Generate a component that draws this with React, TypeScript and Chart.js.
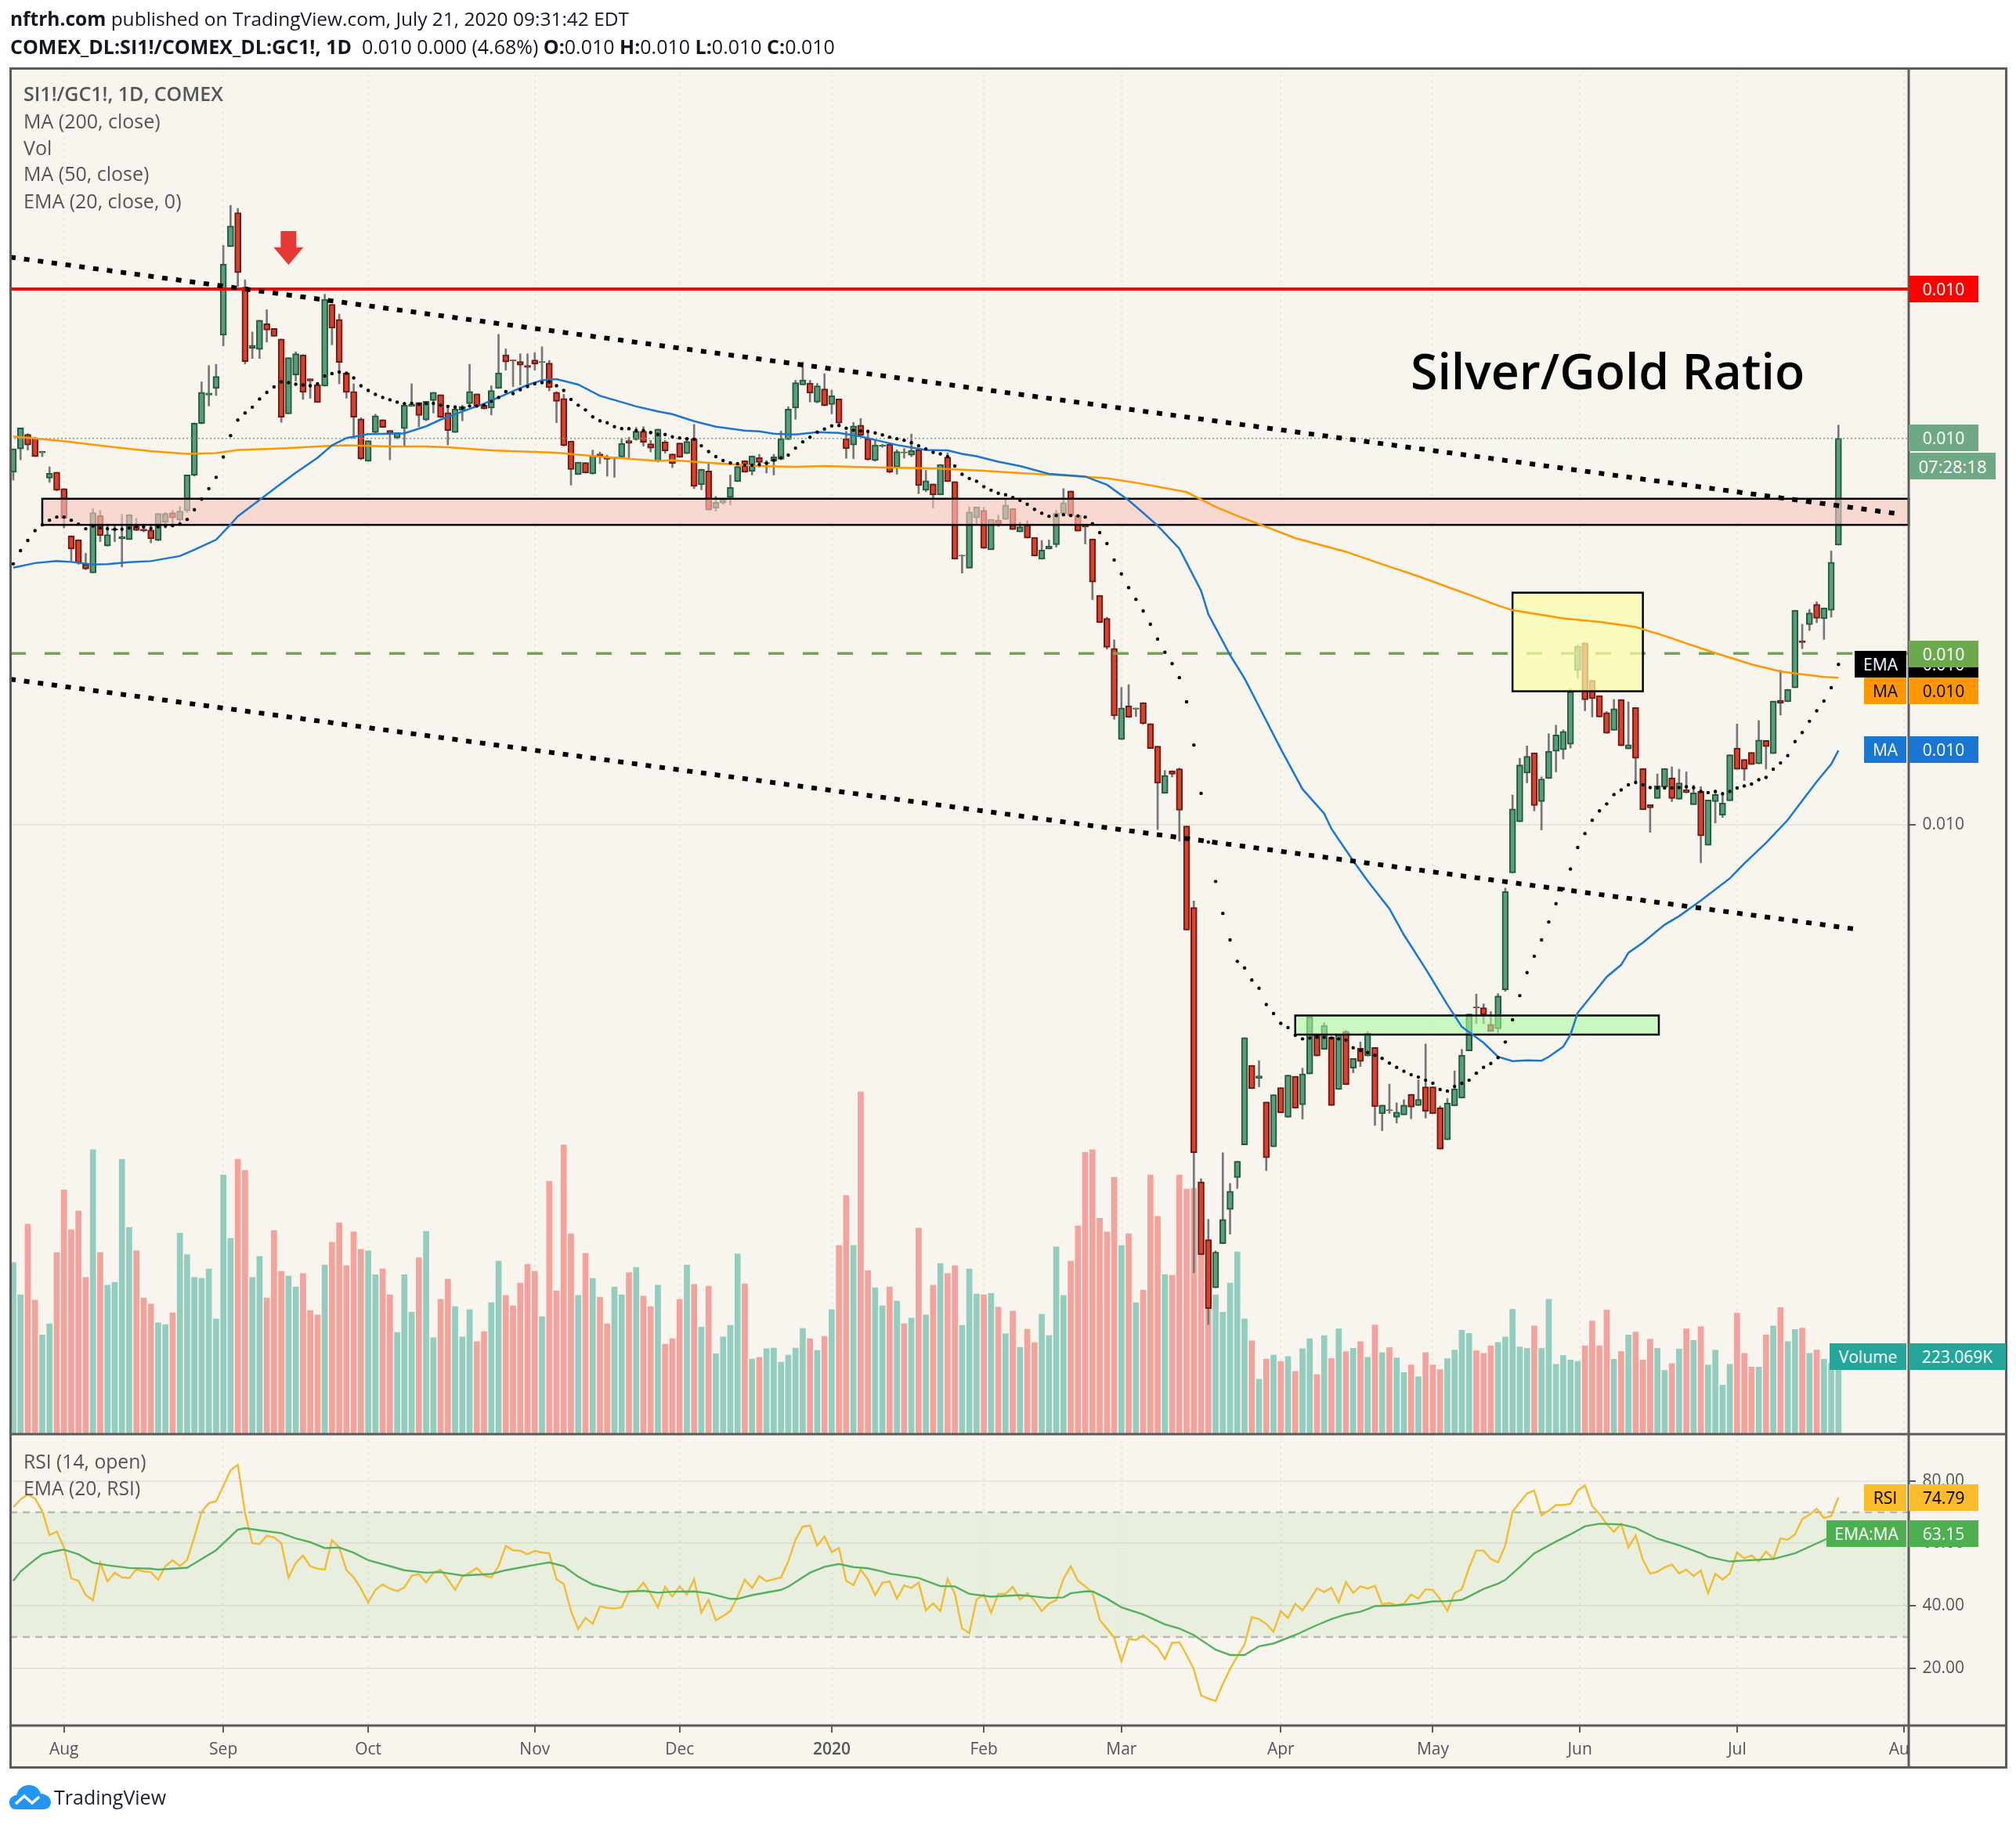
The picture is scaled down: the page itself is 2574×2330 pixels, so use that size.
import React, { useEffect, useRef } from "react";
import { Chart, registerables } from "chart.js";
Chart.register(...registerables);

// Price values are log-scale "pips" above the 0.010 gridline of the log price axis (1 pip = 1/60 %).
const opens = [904,964,1001,991,954,889,904,862,741,731,668,646,793,715,755,733,731,766,758,756,729,776,800,782,805,896,1029,1102,1119,1256,1483,1570,1379,1222,1219,1285,1273,1246,1054,1154,1205,1144,1129,1125,1335,1296,1159,1111,1041,932,1006,1039,1011,992,1016,1073,1083,1038,1088,1103,1057,1006,1063,1080,1105,1076,1069,1119,1205,1192,1188,1178,1192,1186,1184,1109,1093,984,898,929,900,951,942,939,943,985,988,1009,977,932,982,951,
979,952,990,872,907,812,825,839,880,934,906,942,927,932,937,988,1069,1128,1133,1084,1118,1078,1092,990,974,1025,990,934,971,976,917,956,948,962,858,874,846,943,880,689,658,787,806,705,781,783,811,751,769,737,681,707,718,798,856,793,767,733,588,529,452,218,305,296,313,259,201,80,138,143,
-4,-213,-917,-1065,-1189,-1075,-988,-906,-822,-618,-651,-712,-827,-675,-751,-646,-719,-640,-540,-577,-545,-680,-531,-625,-574,-594,-572,-742,-732,-751,-745,-692,-721,-673,-673,-727,-809,-722,-702,-581,-468,-470,-513,-524,-424,-124,7,132,184,59,118,188,192,206,395,466,370,331,287,242,321,194,300,144,51,67,96,120,65,89,51,85,-53,59,24,61,196,167,185,156,216,182,319,315,351,471,513,565,528,550,717];
const closes = [964,1018,974,944,958,901,858,786,707,671,656,800,741,744,759,739,795,755,754,733,798,798,787,804,897,1030,1109,1107,1150,1438,1536,1416,1188,1230,1294,1269,1253,1045,1198,1208,1109,1138,1083,1348,1274,1186,1109,1045,938,985,1049,1019,1003,1006,1076,1079,1050,1086,1109,1045,1011,1066,1073,1111,1073,1067,1114,1159,1187,1190,1179,1173,1182,1188,1121,1086,973,911,930,902,947,947,937,943,978,979,1009,981,966,1015,959,926,
942,983,868,912,807,827,835,865,919,904,946,929,929,944,990,1066,1134,1141,1107,1126,1075,1100,1030,965,1023,999,936,974,974,904,957,954,960,870,882,846,924,880,681,691,802,815,709,783,768,820,757,764,735,689,704,715,799,826,793,753,764,622,518,455,279,299,275,299,259,195,106,126,129,37,
-271,-842,-1104,-1242,-1097,-1013,-941,-864,-547,-678,-645,-855,-693,-740,-643,-728,-640,-493,-594,-516,-721,-539,-667,-600,-608,-536,-724,-720,-734,-738,-720,-725,-705,-736,-742,-833,-715,-678,-592,-486,-470,-488,-531,-440,-172,40,153,175,49,117,188,230,239,341,458,320,323,276,234,297,202,205,170,38,43,99,144,67,107,82,81,-29,63,77,55,179,142,142,154,217,200,317,311,347,550,467,543,529,556,673,991];
const highs = [964,1018,1003,994,958,918,904,862,741,731,696,811,806,771,771,796,796,786,771,771,798,801,806,816,897,1031,1136,1178,1181,1486,1589,1581,1398,1264,1294,1321,1273,1246,1198,1213,1206,1144,1129,1361,1335,1310,1159,1131,1044,985,1053,1039,1011,1006,1083,1131,1083,1086,1109,1103,1076,1076,1076,1181,1105,1076,1126,1258,1221,1192,1208,1208,1211,1226,1191,1111,1104,984,930,929,961,956,948,943,991,994,1019,1021,986,1015,986,951,
979,992,1027,912,929,842,835,897,919,934,946,950,934,950,1010,1072,1140,1187,1140,1132,1157,1115,1092,1009,1032,1042,1007,987,976,977,962,965,1002,962,909,874,924,954,880,692,815,815,814,783,794,837,811,777,780,737,729,730,807,862,856,793,767,733,588,532,474,352,359,299,313,259,201,139,138,145,
-4,-196,-909,-1013,-1094,-842,-921,-864,-547,-618,-606,-712,-693,-675,-643,-646,-625,-493,-540,-509,-545,-539,-528,-600,-558,-531,-572,-720,-666,-714,-706,-692,-655,-563,-673,-722,-703,-632,-577,-486,-435,-460,-480,-434,-163,76,170,202,184,122,233,255,243,348,460,466,370,331,290,321,321,315,300,144,51,130,144,148,142,135,101,97,63,88,83,179,258,167,185,267,216,317,396,347,550,514,552,572,556,702,1025];
const lows = [884,936,961,944,944,878,856,761,676,668,654,646,726,714,726,661,731,754,751,723,728,761,764,771,801,894,1028,1074,1101,1228,1483,1381,1182,1196,1196,1238,1253,1032,1054,1138,1091,1094,1083,1125,1231,1131,1094,991,936,932,1004,1019,936,990,971,1073,1021,1036,1056,1044,974,1006,1036,1080,1071,1066,1051,1119,1166,1124,1128,1131,1166,1141,1113,1031,971,871,898,902,899,926,894,891,942,941,986,971,956,930,953,916,
942,952,862,859,807,804,822,820,880,904,897,917,902,897,936,988,1040,1128,1084,1082,1074,1054,1028,940,939,999,935,932,968,902,899,940,944,849,854,812,846,880,681,645,658,772,708,705,765,782,757,751,735,689,681,707,712,792,793,753,720,577,518,450,270,218,275,277,257,195,-13,80,122,-43,
-271,-1150,-1104,-1283,-1189,-1076,-1051,-934,-822,-678,-673,-888,-827,-740,-751,-728,-756,-640,-594,-577,-721,-680,-667,-637,-621,-594,-772,-786,-741,-766,-745,-755,-721,-753,-742,-833,-809,-722,-702,-581,-511,-511,-531,-534,-428,-124,7,107,35,-14,118,135,168,196,375,292,276,276,234,242,202,194,110,38,-20,67,96,59,65,81,51,-98,-53,4,18,61,142,113,154,156,142,182,281,315,351,451,498,518,475,532,717];
const volumeK = [484,393,592,378,280,311,512,689,576,629,442,802,512,420,428,775,583,517,384,367,314,309,342,567,506,442,439,466,325,731,552,775,744,442,501,384,574,459,446,415,453,349,336,477,541,596,475,570,521,517,450,466,393,287,450,344,497,572,272,380,437,360,274,351,261,289,371,488,391,362,426,479,459,331,713,404,815,565,391,510,439,386,311,415,393,455,470,389,360,420,254,269,
380,477,422,302,417,227,274,307,508,424,212,216,241,243,203,223,243,298,269,236,276,351,532,673,532,965,461,413,362,415,375,311,327,581,336,420,481,453,475,307,466,395,393,397,358,283,347,245,296,258,338,278,528,391,488,587,795,802,609,570,724,532,565,371,406,731,614,450,448,731,691,693,584,481,393,344,426,514,325,263,155,212,223,205,219,177,241,269,168,278,
213,297,233,242,261,217,308,230,244,215,174,195,162,230,195,182,213,237,293,284,235,228,249,259,274,352,246,242,305,242,380,197,222,209,205,249,319,249,350,211,233,280,288,209,268,242,180,199,240,297,264,303,195,237,138,197,341,228,189,189,280,305,357,261,295,299,228,237,211,200,223.069];
const ema20 = [669,703,729,754,769,781,789,789,781,771,759,766,761,759,758,758,761,764,764,760,764,766,767,771,783,808,835,862,891,943,998,1038,1056,1071,1092,1109,1123,1136,1134,1130,1128,1126,1131,1151,1157,1161,1158,1146,1126,1114,1104,1096,1090,1084,1080,1081,1078,1080,1081,1076,1073,1071,1069,1074,1074,1076,1086,1096,1111,1106,1116,1124,1131,1134,1136,1126,1114,1091,1076,1064,1046,1036,1031,1021,1016,1016,1011,1011,1006,1001,1001,995,
992,990,989,972,957,944,934,928,926,922,922,924,927,935,941,948,966,982,994,1007,1015,1023,1024,1017,1012,1010,1009,1005,1000,994,990,986,980,972,964,955,951,944,920,899,888,881,867,858,850,846,839,832,822,809,799,791,793,795,793,792,789,772,749,721,679,643,608,578,548,514,476,442,413,377,315,204,80,-45,-146,-228,-296,-351,-368,-399,-420,-462,-485,-510,-521,-541,-550,-548,-546,-546,-548,-550,-553,-573,-580,-585,-592,-600,-612,-623,-633,-642,-648,-656,-664,-680,-684,-672,-664,-656,-638,-623,-613,-598,-558,-501,-439,-380,-338,-296,-250,-203,-165,-114,-59,-23,11,35,53,77,89,102,108,102,95,94,94,94,95,97,95,85,82,85,79,85,94,99,104,115,121,142,158,177,213,236,265,292,317,351,411];
const ma50Index = [0,3,6,8,11,13,16,19,23,25,28,30,31,34,37,39,42,44,46,49,52,54,57,59,62,65,68,71,73,75,78,81,84,86,89,91,94,97,101,103,105,108,111,114,117,119,122,126,129,131,133,136,139,143,148,151,154,156,158,161,162,164,165,168,170,172,175,178,181,182,185,187,190,192,195,198,200,203,205,207,209,211,212,214,215,216,219,220,222,223,225,228,230,233,237,239,242,245,247,249,251,252];
const ma50 = [659,671,676,674,667,668,673,676,689,705,731,770,791,833,875,903,941,973,992,1002,1003,1004,1022,1039,1060,1080,1104,1128,1140,1143,1129,1100,1084,1073,1060,1053,1035,1021,1011,1009,1003,1001,1007,1005,996,987,974,961,960,951,945,931,920,900,893,872,832,800,767,708,672,600,540,435,375,303,194,91,28,-11,-93,-145,-216,-283,-370,-462,-519,-560,-596,-607,-605,-606,-596,-570,-539,-483,-414,-391,-360,-329,-303,-257,-235,-195,-138,-100,-47,12,61,110,155,190];
const ma200Index = [0,3,7,13,19,24,28,31,37,43,46,52,57,60,66,75,81,89,91,97,103,108,112,118,127,133,139,145,151,156,162,166,169,172,177,184,189,194,198,202,205,207,211,214,219,224,228,231,235,240,244,246,250,252];
const ma200 = [996,991,984,970,958,951,953,961,965,971,973,970,970,968,960,954,944,933,935,927,920,918,920,917,914,909,902,896,889,874,853,815,792,771,735,700,668,637,610,583,562,550,538,529,520,507,484,465,440,411,393,388,379,377];
const rsi14 = [71.6,74.1,75.7,74.4,70.4,62.7,63.8,58.7,48.8,48,43.4,41.8,53.8,47.8,50.6,49.1,48.9,51.7,51,50.8,48.3,52.7,54.6,52.7,54.7,62.1,70.1,72.9,73.5,78.4,83.5,85.2,69.7,60.1,59.8,62.5,61.9,60.1,49,53.7,56.1,52.7,51.9,51.6,61.1,58.7,51.4,49.1,45.5,41,45.1,46.8,45.5,44.7,45.9,49.6,50.2,47.4,50.6,51.5,48.5,45.1,49.3,50.6,52.1,49.7,49.1,52.7,59.2,57.8,57.6,56.5,57.6,57.1,56.8,48.5,47,38.3,32.5,36.1,34.2,39.8,39.3,39.1,39.5,44.6,44.6,47.4,43.8,39.5,46.1,42.9,
46.2,43.6,48.5,37.8,41.9,35.3,36.7,38.3,42.9,48.4,45.7,49.5,47.9,48.5,49.1,54.2,61.2,65.4,65.7,59.3,62.2,57.2,58.5,48,46.6,51.5,48.5,43.4,47.4,47.8,42.3,46.5,45.7,47.4,38.5,40.8,38.3,48.6,43.8,32.7,31.2,42,43.6,37.8,43.8,43.8,46.1,42,44,41.7,38.3,40.7,41.8,48.6,52.7,48,46.2,44.2,35.5,32.7,29.8,22.1,29.3,29,30.5,28.5,26.6,22.9,28.1,28.3,24.2,19.6,11.2,10.2,9.4,14.9,19.7,23.8,27.6,36.4,35.7,34.2,31.6,38.3,36.1,40.6,38.5,41.8,45.6,44.4,45.8,41.1,47.6,
44.1,46.3,45.5,46.4,40.5,40.9,40.2,40.7,43.6,42.3,45.3,45.1,42.1,38.4,44.1,45.3,52.2,57.7,57.7,55,53.9,59.4,70.2,73.1,76,77,69,70.5,72.3,72.3,72.7,77,78.6,72,69.5,66.2,63.7,66.3,58.7,62.6,54.7,50.3,50.9,52.3,53.2,50.4,51.6,49.5,51.3,44,50.3,48.4,50.4,57.1,55.2,56.1,54.2,57.4,55,61.6,61.2,62.9,67.8,69.2,71.1,68.1,68.8,74.79];
const rsiEmaIndex = [0,1,3,4,6,7,9,11,13,16,19,20,22,24,25,28,31,32,34,37,39,41,43,45,47,49,52,54,57,59,62,66,68,72,74,76,78,80,84,87,89,91,94,96,99,100,102,106,107,110,112,114,116,118,120,121,123,125,128,130,132,135,139,140,143,145,146,148,149,151,153,156,159,161,163,166,168,170,172,174,177,180,182,184,186,187,188,191,194,196,198,200,201,203,205,206,208,210,213,215,217,219,222,224,227,230,233,234,237,239,243,246,249,252];
const rsiEma = [48,51,54.8,56.5,57.6,58,56.5,53.8,53,52.1,51.9,51.6,51.9,52.2,53.6,57.8,64.4,64.9,64.2,63.3,61.6,60.4,58.5,58.7,57,54.6,52.7,51.4,50.6,50.8,49.7,50.2,51.4,53.1,53.9,52.7,49.3,46.8,44.4,44.8,44.2,44.5,44.6,44,42.2,42.2,43.4,45.1,46.1,50.6,52.5,53.4,52.4,52,51,50.3,49.6,48.9,46.3,46.2,43.8,42.9,43.4,43.2,42.5,42.7,44,44.6,44.6,42.3,39.5,37.2,34,32.7,30.6,25.9,24.2,24.2,27,27.9,30.6,33.8,35.7,37.2,38.1,38.9,39.9,40.1,40.7,41.4,41.5,41.9,43,45.4,47.1,48.3,52.4,56.8,60.6,62.9,65.5,66.3,66.1,65,61.5,59.4,56.8,55.7,54.2,54.5,55,56.8,60,63.15];
const trendUpperIndex = [-0.43, 260.4];
const trendUpper = [1456, 797];
const trendLowerIndex = [-0.43, 255];
const trendLower = [373, -270];
const resistance = 1374;
const dashedLevel = 439;
const lastClose = 991;
const pinkZone = { from: 4, top: 836, bottom: 769 };
const yellowZone = { from: 207, to: 225, top: 595, bottom: 342 };
const greenZone = { from: 177, to: 227.2, top: -490, bottom: -539 };
const arrowAt = { index: 38, top: 1523, neck: 1481, tip: 1436 };
const monthTicks = [7, 29, 49, 72, 92, 113, 134, 153, 175, 196, 216.3, 238, 261];
const monthLabels = ["Aug", "Sep", "Oct", "Nov", "Dec", "2020", "Feb", "Mar", "Apr", "May", "Jun", "Jul", "Aug"];
const rsiTicks = [20, 40, 60, 80];
const rsiBand = [30, 70];

const FONT = '"Open Sans", sans-serif';
const BG = "#f7f5ee";
const FRAME = "#5b5b59";
const ZONE_LAYER = 70;
const xy = (idx: number[], v: number[]) => v.map((y, i) => ({ x: idx[i], y }));
const seq = (v: number[]) => v.map((y, x) => ({ x, y }));
const levelLine = (y: number) => [{ x: -0.43, y }, { x: 261.7, y }];

const overlays = {
  id: "overlays",
  beforeDraw(chart: any) {
    const c = chart.ctx;
    c.save();
    c.fillStyle = "#ffffff";
    c.fillRect(0, 0, 2574, 2330);
    c.fillStyle = BG;
    c.fillRect(13, 87, 2550, 2170);
    c.restore();
  },
  beforeDatasetsDraw(chart: any) {
    const { ctx: c, scales: s, chartArea: a } = chart;
    const top = s.yRsi.getPixelForValue(rsiBand[1]);
    const bot = s.yRsi.getPixelForValue(rsiBand[0]);
    c.save();
    c.fillStyle = "rgba(90,190,70,0.09)";
    c.fillRect(a.left, top, a.right - a.left, bot - top);
    c.restore();
  },
  // The marked zones sit over the candles and under the moving averages and trend lines.
  beforeDatasetDraw(chart: any, args: any) {
    if (args.meta.order !== ZONE_LAYER) return;
    const { ctx: c, scales: s, chartArea: a } = chart;
    const x = s.x, y = s.y;
    const rect = (l: number, r: number, t: number, b: number, fill: string) => {
      c.fillStyle = fill;
      c.fillRect(l, t, r - l, b - t);
      c.strokeStyle = "#000";
      c.lineWidth = 2.5;
      c.strokeRect(l, t, r - l, b - t);
    };
    c.save();
    rect(x.getPixelForValue(pinkZone.from), a.right, y.getPixelForValue(pinkZone.top), y.getPixelForValue(pinkZone.bottom), "rgba(248,200,190,0.62)");
    rect(x.getPixelForValue(yellowZone.from), x.getPixelForValue(yellowZone.to), y.getPixelForValue(yellowZone.top), y.getPixelForValue(yellowZone.bottom), "rgba(252,252,170,0.72)");
    rect(x.getPixelForValue(greenZone.from), x.getPixelForValue(greenZone.to), y.getPixelForValue(greenZone.top), y.getPixelForValue(greenZone.bottom), "rgba(170,250,160,0.58)");
    c.restore();
  },
  afterDatasetsDraw(chart: any) {
    const { ctx: c, scales: s } = chart;
    const x = s.x, y = s.y;
    c.save();
    const ax = x.getPixelForValue(arrowAt.index);
    c.fillStyle = "#e53935";
    c.beginPath();
    c.moveTo(ax - 10, y.getPixelForValue(arrowAt.top));
    c.lineTo(ax + 10, y.getPixelForValue(arrowAt.top));
    c.lineTo(ax + 10, y.getPixelForValue(arrowAt.neck));
    c.lineTo(ax + 19, y.getPixelForValue(arrowAt.neck));
    c.lineTo(ax, y.getPixelForValue(arrowAt.tip));
    c.lineTo(ax - 19, y.getPixelForValue(arrowAt.neck));
    c.lineTo(ax - 10, y.getPixelForValue(arrowAt.neck));
    c.closePath();
    c.fill();
    c.restore();
  },
  afterDraw(chart: any) {
    const c = chart.ctx;
    c.save();
    c.fillStyle = BG;
    c.fillRect(2438, 2213, 124, 42);
    c.strokeStyle = FRAME;
    c.lineWidth = 3;
    c.strokeRect(13.5, 87.5, 2548, 2169);
    c.beginPath();
    c.moveTo(2437, 87); c.lineTo(2437, 2257);
    c.moveTo(13, 1831); c.lineTo(2562, 1831);
    c.moveTo(13, 2203); c.lineTo(2562, 2203);
    c.stroke();
    c.restore();
  },
};

function Txt(p: { x: number; y: number; size?: number; color?: string; bold?: boolean; children: any; w?: number }) {
  return (
    <div style={{ position: "absolute", left: p.x, top: p.y - 20, height: 40, lineHeight: "40px", width: p.w, whiteSpace: "nowrap", fontFamily: FONT, fontSize: p.size ?? 25, color: p.color ?? "#555", fontWeight: p.bold ? 600 : 400 }}>{p.children}</div>
  );
}
function Box(p: { x: number; y: number; w: number; h: number; bg: string; color?: string; text?: string; size?: number }) {
  return (
    <div style={{ position: "absolute", left: p.x, top: p.y, width: p.w, height: p.h, background: p.bg, color: p.color ?? "#fff", fontFamily: FONT, fontSize: p.size ?? 21, lineHeight: `${p.h}px`, textAlign: "center", whiteSpace: "nowrap", overflow: "hidden" }}>{p.text}</div>
  );
}

export default function App() {
  const ref = useRef<HTMLCanvasElement | null>(null);
  useEffect(() => {
    if (!ref.current) return;
    const chart = new Chart(ref.current, {
      type: "bar",
      plugins: [overlays],
      data: {
        datasets: [
          { type: "bar", label: "Volume", yAxisID: "yVol", order: 100, grouped: false, barThickness: 7,
            data: seq(volumeK), backgroundColor: closes.map((cl, i) => (cl >= opens[i] ? "#92cdc0" : "#f3a29c")) },
          { type: "bar", label: "Wicks", yAxisID: "y", order: 90, grouped: false, barThickness: 2,
            data: lows.map((l, i) => ({ x: i, y: [l, highs[i]] })), backgroundColor: "#777777" },
          { type: "bar", label: "Candles", yAxisID: "y", order: 80, grouped: false, barThickness: 8, borderWidth: 2, borderSkipped: false,
            data: opens.map((o, i) => ({ x: i, y: [Math.min(o, closes[i]), Math.max(o, closes[i])] })),
            backgroundColor: closes.map((cl, i) => (cl >= opens[i] ? "#5b9c7b" : "#d4432f")),
            borderColor: closes.map((cl, i) => (cl >= opens[i] ? "#1f5b3c" : "#701711")) },
          { type: "line", label: "Last", yAxisID: "y", order: 75, data: levelLine(lastClose), borderColor: "#6fa885", borderWidth: 1.5, borderDash: [2, 3], pointRadius: 0 },
          { type: "line", label: "Dashed", yAxisID: "y", order: 75, data: levelLine(dashedLevel), borderColor: "#6ca94d", borderWidth: 3.5, borderDash: [20, 24], pointRadius: 0 },
          { type: "line", label: "MA 200", yAxisID: "y", order: ZONE_LAYER, data: xy(ma200Index, ma200), borderColor: "#ff9800", borderWidth: 2.5, pointRadius: 0 },
          { type: "line", label: "MA 50", yAxisID: "y", order: 60, data: xy(ma50Index, ma50), borderColor: "#1976d2", borderWidth: 2.5, pointRadius: 0 },
          { type: "line", label: "EMA 20", yAxisID: "y", order: 50, data: seq(ema20), showLine: false, pointRadius: 2.2, pointBackgroundColor: "#000", pointBorderWidth: 0 },
          { type: "line", label: "Resistance", yAxisID: "y", order: 44, data: levelLine(resistance), borderColor: "#ff0000", borderWidth: 4, pointRadius: 0 },
          { type: "line", label: "Upper", yAxisID: "y", order: 40, data: xy(trendUpperIndex, trendUpper), borderColor: "#000", borderWidth: 6, borderDash: [7, 10.8], pointRadius: 0 },
          { type: "line", label: "Lower", yAxisID: "y", order: 40, data: xy(trendLowerIndex, trendLower), borderColor: "#000", borderWidth: 6, borderDash: [7, 10.8], pointRadius: 0 },
          { type: "line", label: "RSI 70", yAxisID: "yRsi", order: 30, data: levelLine(rsiBand[1]), borderColor: "#b9b9b2", borderWidth: 2.5, borderDash: [9, 7], pointRadius: 0 },
          { type: "line", label: "RSI 30", yAxisID: "yRsi", order: 30, data: levelLine(rsiBand[0]), borderColor: "#b9b9b2", borderWidth: 2.5, borderDash: [9, 7], pointRadius: 0 },
          { type: "line", label: "RSI", yAxisID: "yRsi", order: 20, data: seq(rsi14), borderColor: "#f2bb33", borderWidth: 2.4, pointRadius: 0 },
          { type: "line", label: "RSI EMA", yAxisID: "yRsi", order: 10, data: xy(rsiEmaIndex, rsiEma), borderColor: "#55b05c", borderWidth: 2.4, pointRadius: 0 },
        ],
      },
      options: {
        responsive: false,
        devicePixelRatio: 1,
        animation: false,
        events: [],
        layout: { padding: { left: 13, right: 137, top: 87, bottom: 73 } },
        plugins: { legend: { display: false }, tooltip: { enabled: false } },
        scales: {
          x: {
            type: "linear", min: -0.43, max: 261.7, position: "bottom", offset: false,
            afterBuildTicks: (a: any) => { a.ticks = monthTicks.map((value) => ({ value })); },
            afterFit: (a: any) => { a.height = 54; },
            grid: { offset: false, color: "#e4e3dc", lineWidth: 2, tickColor: FRAME, tickLength: 9, tickBorderDash: [], drawOnChartArea: true },
            border: { display: false, dash: [2, 6] },
            ticks: {
              autoSkip: false, maxRotation: 0, padding: 9, color: "#555", includeBounds: false,
              font: (ctx: any) => ({ family: FONT, size: 21, weight: ctx.tick && ctx.tick.label === "2020" ? "600" : "400" }),
              callback: (v: any) => monthLabels[monthTicks.indexOf(v)],
            },
          },
          y: {
            type: "linear", min: -2312, max: 1941, position: "right",
            afterBuildTicks: (a: any) => { a.ticks = [{ value: 0 }]; },
            afterFit: (a: any) => { a.width = 0; },
            grid: { color: "#e6e5df", lineWidth: 2, tickColor: FRAME, tickLength: 9 },
            border: { display: false },
            ticks: { mirror: true, padding: 71, color: "#555", font: { family: FONT, size: 21 }, callback: () => "0.010" },
          },
          yRsi: {
            type: "linear", min: 1.58, max: 533.2, position: "right",
            afterBuildTicks: (a: any) => { a.ticks = rsiTicks.map((value) => ({ value })); },
            afterFit: (a: any) => { a.width = 0; },
            grid: { color: "#e6e5df", lineWidth: 2, tickColor: FRAME, tickLength: 9 },
            border: { display: false },
            ticks: { mirror: true, padding: 71, color: "#555", font: { family: FONT, size: 21 }, callback: (v: any) => Number(v).toFixed(2) },
          },
          yVol: { type: "linear", min: -821.4, max: 3851, display: false },
        },
      } as any,
    } as any);
    return () => chart.destroy();
  }, []);

  return (
    <div style={{ position: "absolute", left: 0, top: 0, width: 2574, height: 2330, background: "#fff", overflow: "hidden" }}>
      <canvas ref={ref} width={2574} height={2330} style={{ position: "absolute", left: 0, top: 0, display: "block" }} />
      <Txt x={13} y={24} size={24.5} color="#131722"><b style={{ fontWeight: 700 }}>nftrh.com</b> published on TradingView.com, July 21, 2020 09:31:42 EDT</Txt>
      <Txt x={13} y={59} color="#131722"><b style={{ fontWeight: 700 }}>COMEX_DL:SI1!/COMEX_DL:GC1!, 1D</b>&nbsp; 0.010 0.000 (4.68%) <b style={{ fontWeight: 700 }}>O:</b>0.010 <b style={{ fontWeight: 700 }}>H:</b>0.010 <b style={{ fontWeight: 700 }}>L:</b>0.010 <b style={{ fontWeight: 700 }}>C:</b>0.010</Txt>
      <Txt x={30} y={119} bold>SI1!/GC1!, 1D, COMEX</Txt>
      <Txt x={30} y={154}>MA (200, close)</Txt>
      <Txt x={30} y={188}>Vol</Txt>
      <Txt x={30} y={221}>MA (50, close)</Txt>
      <Txt x={30} y={256}>EMA (20, close, 0)</Txt>
      <Txt x={30} y={1866} size={24.7}>RSI (14, open)</Txt>
      <Txt x={30} y={1900} size={24.7}>EMA (20, RSI)</Txt>
      <Txt x={1801} y={473} size={62.6} color="#000" bold>Silver/Gold Ratio</Txt>

      <Box x={2437} y={352} w={89} h={34} bg="#ff0000" text="0.010" />
      <Box x={2437} y={542} w={89} h={34} bg="#6fa885" text="0.010" />
      <Box x={2438} y={578} w={110} h={34} bg="#6fa885" text="07:28:18" size={22} />
      <Box x={2368} y={831} w={66} h={34} bg="#000" text="EMA" />
      <Box x={2437} y={831} w={89} h={34} bg="#000" text="0.010" />
      <Box x={2437} y={818} w={89} h={34} bg="#6ca94d" text="0.010" />
      <Box x={2380} y={865} w={54} h={34} bg="#ff9800" color="#000" text="MA" />
      <Box x={2437} y={865} w={89} h={34} bg="#ff9800" color="#000" text="0.010" />
      <Box x={2380} y={940} w={54} h={34} bg="#1976d2" text="MA" />
      <Box x={2437} y={940} w={89} h={34} bg="#1976d2" text="0.010" />
      <Box x={2336} y={1715} w={98} h={34} bg="#26a69a" text="Volume" />
      <Box x={2437} y={1715} w={124} h={34} bg="#26a69a" text="223.069K" />
      <Box x={2380} y={1895} w={54} h={34} bg="#fbbc2c" color="#000" text="RSI" />
      <Box x={2437} y={1895} w={89} h={34} bg="#fbbc2c" color="#000" text="74.79" />
      <Box x={2332} y={1941} w={102} h={34} bg="#4caf50" text="EMA:MA" />
      <Box x={2437} y={1941} w={89} h={34} bg="#4caf50" text="63.15" />

      <svg style={{ position: "absolute", left: 12, top: 2279 }} width={53} height={31} viewBox="0 0 53 31">
        <path d="M8 31 C2 31 0 26 0 22 C0 17 4 13 9 13 C11 5 17 0 25 0 C32 0 38 4 40 11 C47 11 53 16 53 22 C53 27 49 31 44 31 Z" fill="#2196f3" />
        <path d="M8 24 L19 14 L29 23 L38 15" stroke="#fff" strokeWidth="3.5" fill="none" />
      </svg>
      <Txt x={69} y={2294} size={25} color="#1c2030">TradingView</Txt>
    </div>
  );
}
